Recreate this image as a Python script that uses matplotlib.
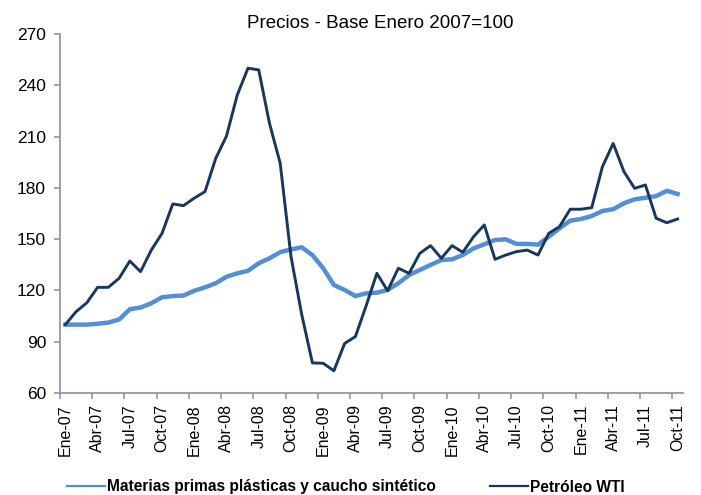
import numpy as np
import matplotlib
matplotlib.use('Agg')
import matplotlib.pyplot as plt

plt.rcParams['font.family'] = ['Liberation Sans', 'DejaVu Sans']

# monthly index values, Ene-07 .. Oct-11 (base Ene 2007 = 100)
meses = ['Ene', 'Feb', 'Mar', 'Abr', 'May', 'Jun', 'Jul', 'Ago', 'Sep', 'Oct', 'Nov', 'Dic']
anios = ['07', '08', '09', '10', '11']
fechas = [m + '-' + a for a in anios for m in meses][:58]

materias = [100, 100, 100, 100.5, 101.2, 103, 109, 110, 112.5, 116, 116.7, 117,
            119.8, 121.8, 124.2, 128, 130, 131.5, 135.9, 138.8, 142.4, 144, 145.2, 140.7,
            133, 123.2, 120.3, 116.7, 118.3, 118.7, 120.3, 124.2, 129, 132, 134.9, 137.8,
            138.2, 140.7, 144.6, 147, 149.5, 149.9, 147.2, 147.2, 146.8, 151.4, 156.3, 160.8,
            161.8, 163.5, 166.5, 167.5, 171, 173.3, 174.2, 175.2, 178.3, 176.4]

wti = [100, 107.6, 112.8, 121.8, 121.8, 127.1, 137.2, 131, 143.6, 153.4, 170.6, 169.6,
       174, 177.8, 197.3, 210.3, 234.3, 250, 249, 217.8, 194.4, 140, 106, 77.6,
       77.4, 73, 89, 93, 111, 130, 119.8, 133, 130, 141.7, 146.2, 138.8,
       146.2, 142.3, 151.4, 158.3, 138.2, 140.7, 142.7, 143.6, 140.7, 153.4, 157.3, 167.5,
       167.5, 168.4, 192.4, 206, 189.5, 179.7, 181.7, 162.2, 159.6, 161.8]

x = np.arange(len(fechas))

fig = plt.figure(figsize=(7.01, 4.95), dpi=100)
ax = fig.add_axes([60/701, 1 - 393/495, 623/701, 359/495])

ax.plot(x, materias, color='#558ed5', lw=3.2, solid_joinstyle='round',
        label='Materias primas plásticas y caucho sintético')
ax.plot(x, wti, color='#17375e', lw=2.1, solid_joinstyle='round',
        label='Petróleo WTI')

ax.set_xlim(-0.5, len(fechas) - 0.5)
ax.set_ylim(60, 270)
ax.set_yticks(np.arange(60, 271, 30))

lab_pos = x[::3]
ax.set_xticks(lab_pos)
ax.set_xticklabels([fechas[i] for i in lab_pos], rotation=90)
ax.set_xticks(np.arange(-0.5, len(fechas) - 1, 3), minor=True)

axis_col = '#8c97b3'
for s in ['top', 'right']:
    ax.spines[s].set_visible(False)
for s in ['left', 'bottom']:
    ax.spines[s].set_color(axis_col)
    ax.spines[s].set_linewidth(1.3)

ax.tick_params(axis='x', which='major', length=0, pad=8, labelsize=11.5)
ax.tick_params(axis='x', which='minor', length=4, color=axis_col, width=1.2)
ax.tick_params(axis='y', length=4, color=axis_col, width=1.2, pad=6, labelsize=12.5)

fig.text(380/701, 1 - 23/495, 'Precios - Base Enero 2007=100', ha='center', va='center',
         fontsize=13.5)

fig.legend(loc='center', bbox_to_anchor=(346/701, 1 - 487/495), ncol=2, frameon=False,
           prop={'weight': 'bold', 'size': 11.2}, handlelength=2.4, handletextpad=0.15,
           columnspacing=3.5, borderaxespad=0)
for ln in fig.legends[0].get_lines():
    ln.set_linewidth(1.6)

fig.savefig('out.png', dpi=100)
